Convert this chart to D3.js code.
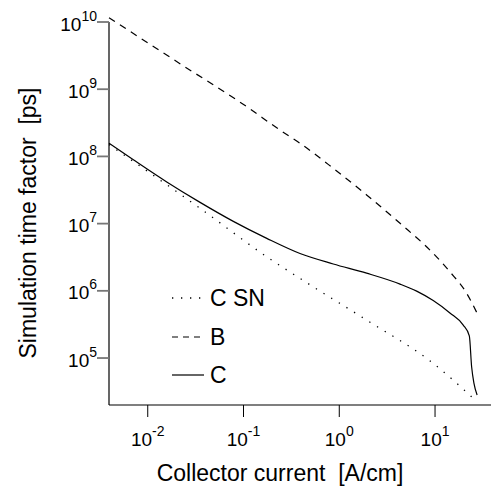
<!DOCTYPE html>
<html>
<head>
<meta charset="utf-8">
<script src="https://cdn.jsdelivr.net/npm/d3@7"></script>
<style>
  body { margin: 0; background: #fff; }
  text { font-family: "Liberation Sans", Arial, sans-serif; fill: #000; }
</style>
</head>
<body>
<div id="viz"></div>
<script>
// simulation time factor vs collector current (log-log)

// collector current [A/cm] and simulation time factor [ps]
var currentC = [0.00394, 0.00708, 0.0158, 0.0352, 0.0783, 0.175, 0.389, 0.865, 1.93, 4.31, 6.43, 9.57, 14.3, 19.7, 22.8, 24.1, 25.5, 27.5];
var timeC = [1.57e8, 8.91e7, 4.17e7, 2.07e7, 1.08e7, 6.03e6, 3.59e6, 2.51e6, 1.83e6, 1.26e6, 9.89e5, 7.16e5, 4.68e5, 3.09e5, 2.14e5, 7.43e4, 4.20e4, 2.81e4];

var currentB = [0.00394, 0.00474, 0.0217, 0.108, 0.240, 0.389, 0.865, 1.93, 4.31, 9.57, 14.3, 21.4, 27.2];
var timeB = [1.16e10, 9.77e9, 2.40e9, 5.50e8, 2.47e8, 1.57e8, 6.65e7, 2.67e7, 1.01e7, 3.61e6, 1.92e6, 9.18e5, 4.79e5];

var currentCSN = [0.00394, 0.0352, 0.175, 0.439, 1.93, 9.57, 27.5];
var timeCSN = [1.50e8, 1.69e7, 3.21e6, 1.37e6, 3.67e5, 8.34e4, 2.22e4];

var xTicks = [0.01, 0.1, 1, 10];
var xTickExp = ["-2", "-1", "0", "1"];
var yTicks = [1e5, 1e6, 1e7, 1e8, 1e9, 1e10];
var yTickExp = ["5", "6", "7", "8", "9", "10"];

var seriesNames = ["C SN", "B", "C"];

// set the dimensions of the graph
var w = 491;
var h = 492;
var margin = { left: 109, right: 491, top: 22, bottom: 405 };

var x = d3.scaleLog().domain([0.00394, 38.4]).range([margin.left, margin.right]);
var y = d3.scaleLog().domain([2.0e4, 1e10]).range([margin.bottom, margin.top]);

var svg = d3.select("div#viz")
  .append("svg")
  .attr("width", w)
  .attr("height", h);

// build point lists
function zip(xs, ys) {
  var out = [];
  for (var i = 0; i < xs.length; i++) {
    out.push([xs[i], ys[i]]);
  }
  return out;
}

var line = d3.line()
  .x(function (d) { return x(d[0]); })
  .y(function (d) { return y(d[1]); })
  .curve(d3.curveMonotoneX);

var styles = {
  "C SN": { dash: "1.3,7.7", legendDash: "1.3,7.7", width: 1.3 },
  "B": { dash: "7,6", legendDash: "6,5", width: 1.2 },
  "C": { dash: null, legendDash: null, width: 1.2 }
};

var series = [
  { name: "C SN", pts: zip(currentCSN, timeCSN) },
  { name: "B", pts: zip(currentB, timeB) },
  { name: "C", pts: zip(currentC, timeC) }
];

series.forEach(function (s) {
  svg.append("path")
    .datum(s.pts)
    .attr("d", line)
    .attr("fill", "none")
    .attr("stroke", "#000")
    .attr("stroke-width", styles[s.name].width)
    .attr("stroke-dasharray", styles[s.name].dash);
});

// axes (left and bottom only)
svg.append("line")
  .attr("x1", margin.left).attr("x2", margin.left)
  .attr("y1", margin.top).attr("y2", margin.bottom)
  .attr("stroke", "#000").attr("stroke-width", 1.2);
svg.append("line")
  .attr("x1", margin.left).attr("x2", margin.right)
  .attr("y1", margin.bottom).attr("y2", margin.bottom)
  .attr("stroke", "#000").attr("stroke-width", 1.2);

// y ticks and labels
yTicks.forEach(function (t, i) {
  svg.append("line")
    .attr("x1", margin.left - 12).attr("x2", margin.left)
    .attr("y1", y(t)).attr("y2", y(t))
    .attr("stroke", "#777").attr("stroke-width", 1.8);
  var lab = svg.append("text")
    .attr("x", margin.left - 12)
    .attr("y", y(t) + 8.5)
    .style("text-anchor", "end")
    .style("font-size", "19px");
  lab.append("tspan").text("10");
  lab.append("tspan").text(yTickExp[i])
    .attr("dy", -10)
    .style("font-size", "14px");
});

// x ticks and labels
xTicks.forEach(function (t, i) {
  svg.append("line")
    .attr("x1", x(t)).attr("x2", x(t))
    .attr("y1", margin.bottom).attr("y2", margin.bottom + 12)
    .attr("stroke", "#000").attr("stroke-width", 1);
  var lab = svg.append("text")
    .attr("x", x(t))
    .attr("y", 446)
    .style("text-anchor", "middle")
    .style("font-size", "19px");
  lab.append("tspan").text("10");
  lab.append("tspan").text(xTickExp[i])
    .attr("dy", -10)
    .style("font-size", "14px");
});

// axis titles
svg.append("text").text("Collector current  [A/cm]")
  .attr("x", 280)
  .attr("y", 481)
  .style("text-anchor", "middle")
  .style("font-size", "23px")
  .style("white-space", "pre");

svg.append("text").text("Simulation time factor  [ps]")
  .attr("transform", "translate(36,223) rotate(-90)")
  .style("text-anchor", "middle")
  .style("font-size", "23px")
  .style("white-space", "pre");

// legend
var legendY = [298, 337, 375];
seriesNames.forEach(function (n, i) {
  svg.append("line")
    .attr("x1", 172).attr("x2", 204)
    .attr("y1", legendY[i]).attr("y2", legendY[i])
    .attr("stroke", "#000")
    .attr("stroke-width", styles[n].width)
    .attr("stroke-dasharray", styles[n].legendDash);
  svg.append("text").text(n)
    .attr("x", 210)
    .attr("y", legendY[i])
    .attr("dy", "0.36em")
    .style("font-size", "23px");
});
</script>
</body>
</html>
